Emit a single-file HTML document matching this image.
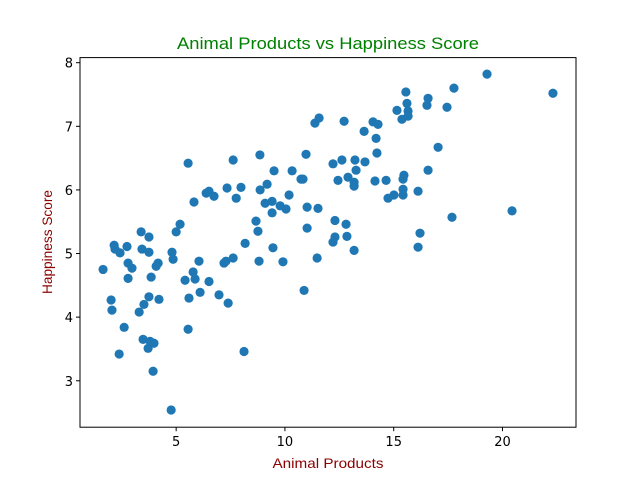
<!DOCTYPE html>
<html><head><meta charset="utf-8"><style>
html,body{margin:0;padding:0;background:#fff;}
svg{display:block;}
</style></head><body>
<svg id="chart" width="640" height="480" viewBox="0 0 640 480" xmlns="http://www.w3.org/2000/svg">
<rect width="640" height="480" fill="#fff"/>
<text x="328" y="49" text-anchor="middle" font-family="Liberation Sans, sans-serif" font-size="17" fill="green" textLength="302" lengthAdjust="spacingAndGlyphs">Animal Products vs Happiness Score</text>
<text x="328" y="468" text-anchor="middle" font-family="Liberation Sans, sans-serif" font-size="14" fill="#8b0000" textLength="111" lengthAdjust="spacingAndGlyphs">Animal Products</text>
<text transform="translate(52,242) rotate(-90)" text-anchor="middle" font-family="Liberation Sans, sans-serif" font-size="14" fill="#8b0000" textLength="104" lengthAdjust="spacingAndGlyphs">Happiness Score</text>
<g id="marks"></g>
<g id="axes"></g>
</svg>
<script>
const xTicks = [5, 10, 15, 20];
const yTicks = [3, 4, 5, 6, 7, 8];
const animalProducts = [5.82,8.67,8.76,5.18,5.00,3.39,3.75,2.15,2.74,2.19,2.42,3.43,3.75,4.81,4.86,8.17,8.81,7.62,7.20,7.29,6.05,1.64,2.79,2.97,4.17,4.08,2.79,3.85,5.78,5.87,5.41,6.51,6.10,5.59,6.97,7.39,2.01,2.05,3.75,3.52,3.30,4.21,2.61,5.55,3.48,3.98,3.71,3.80,2.38,8.12,3.94,4.77,6.38,6.51,6.74,5.55,7.62,8.85,10.97,11.38,11.57,12.72,12.21,12.62,13.22,13.27,12.90,13.18,13.18,12.44,9.50,10.33,10.74,10.83,9.18,8.86,7.98,7.76,7.34,10.19,9.09,9.41,9.41,9.78,10.05,11.02,11.52,11.02,12.30,12.81,12.30,12.21,12.85,13.18,9.45,11.48,9.91,10.88,19.29,22.32,17.77,15.56,16.58,15.61,16.53,17.45,15.15,15.66,15.66,15.38,14.05,14.28,13.64,14.19,17.04,14.23,13.68,14.14,14.65,15.47,15.43,16.58,15.43,15.01,14.74,15.43,16.12,17.68,20.44,16.21,16.12];
const happiness = [5.81,5.51,5.35,5.46,5.34,5.34,5.26,5.13,5.11,5.07,5.01,5.07,5.02,5.02,4.91,5.16,4.88,4.93,4.85,4.88,4.88,4.75,4.85,4.77,4.85,4.80,4.61,4.63,4.71,4.60,4.58,4.56,4.39,4.30,4.35,4.22,4.27,4.11,4.32,4.20,4.08,4.28,3.84,3.81,3.65,3.59,3.51,3.62,3.42,3.46,3.15,2.54,5.95,5.98,5.90,6.42,6.47,6.55,6.56,7.05,7.13,7.08,6.41,6.47,6.47,6.31,6.20,6.12,6.06,6.15,6.30,6.30,6.17,6.17,6.09,6.00,6.04,5.87,6.03,5.92,5.79,5.82,5.64,5.75,5.70,5.73,5.71,5.40,5.52,5.46,5.26,5.18,5.27,5.05,5.09,4.93,4.87,4.42,7.82,7.52,7.60,7.54,7.44,7.36,7.33,7.30,7.25,7.24,7.16,7.11,7.07,7.03,6.92,6.81,6.67,6.58,6.44,6.14,6.15,6.23,6.17,6.31,6.01,5.92,5.87,5.92,5.98,5.57,5.67,5.32,5.10];

const L = 80, R = 576, T = 57.6, B = 427.2;
const xMin = 0.58, xMax = 23.38, yMin = 2.27, yMax = 8.08;
function sx(v){ return L + (v - xMin) / (xMax - xMin) * (R - L); }
function sy(v){ return B - (v - yMin) / (yMax - yMin) * (B - T); }
const NS = 'http://www.w3.org/2000/svg';
const marks = document.getElementById('marks');
const axes = document.getElementById('axes');

for (let i = 0; i < animalProducts.length; i++) {
  const c = document.createElementNS(NS, 'circle');
  c.setAttribute('cx', sx(animalProducts[i]));
  c.setAttribute('cy', sy(happiness[i]));
  c.setAttribute('r', 4.6);
  c.setAttribute('fill', '#1f77b4');
  
  
  marks.appendChild(c);
}

const frame = document.createElementNS(NS, 'rect');
frame.setAttribute('x', L); frame.setAttribute('y', T);
frame.setAttribute('width', R - L); frame.setAttribute('height', B - T);
frame.setAttribute('fill', 'none'); frame.setAttribute('stroke', '#000'); frame.setAttribute('stroke-width', '1');


axes.appendChild(frame);

xTicks.forEach(t => {
  const x = sx(t);
  const ln = document.createElementNS(NS, 'line');
  ln.setAttribute('x1', x); ln.setAttribute('x2', x); ln.setAttribute('y1', B); ln.setAttribute('y2', B + 4);
  ln.setAttribute('stroke', '#000');
  
  
  axes.appendChild(ln);
  const tx = document.createElementNS(NS, 'text');
  tx.setAttribute('x', x); tx.setAttribute('y', B + 19);
  tx.setAttribute('text-anchor', 'middle');
  tx.setAttribute('font-family', 'DejaVu Sans, sans-serif');
  tx.setAttribute('font-size', '13');
  tx.textContent = t;
  
  
  axes.appendChild(tx);
});
yTicks.forEach(t => {
  const y = sy(t);
  const ln = document.createElementNS(NS, 'line');
  ln.setAttribute('x1', L - 4); ln.setAttribute('x2', L); ln.setAttribute('y1', y); ln.setAttribute('y2', y);
  ln.setAttribute('stroke', '#000');
  
  
  axes.appendChild(ln);
  const tx = document.createElementNS(NS, 'text');
  tx.setAttribute('x', L - 7); tx.setAttribute('y', y + 5);
  tx.setAttribute('text-anchor', 'end');
  tx.setAttribute('font-family', 'DejaVu Sans, sans-serif');
  tx.setAttribute('font-size', '13');
  tx.textContent = t;
  
  
  axes.appendChild(tx);
});
</script>
</body></html>
